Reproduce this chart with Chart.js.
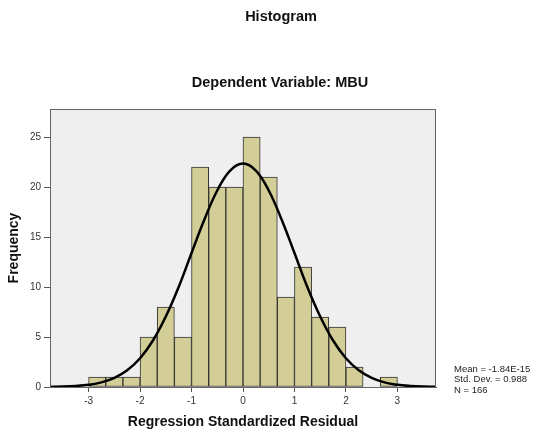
<!DOCTYPE html>
<html>
<head>
<meta charset="utf-8">
<script src="https://cdn.jsdelivr.net/npm/chart.js@4/dist/chart.umd.min.js"></script>
<style>
  html, body { margin: 0; padding: 0; background: #fff; }
</style>
</head>
<body>
<canvas id="histChart" width="537" height="433"></canvas>
<script>
// histogram bins (centre of each 1/3-wide bin) and counts
const binCenters = [-2.8333, -2.5, -2.1667, -1.8333, -1.5, -1.1667, -0.8333, -0.5, -0.1667,
                    0.1667, 0.5, 0.8333, 1.1667, 1.5, 1.8333, 2.1667, 2.5, 2.8333];
const frequencies = [1, 1, 1, 5, 8, 5, 22, 20, 20, 25, 21, 9, 12, 7, 6, 2, 0, 1];

// normal curve
const curveX = [-3.75, -3.5, -3.25, -3, -2.75, -2.5, -2.25, -2, -1.75, -1.5, -1.25, -1, -0.75, -0.5, -0.25,
                0, 0.25, 0.5, 0.75, 1, 1.25, 1.5, 1.75, 2, 2.25, 2.5, 2.75, 3, 3.25, 3.5, 3.75];
const curveY = [0.02, 0.04, 0.1, 0.22, 0.46, 0.91, 1.67, 2.88, 4.65, 7.05, 10.0, 13.4, 16.75, 19.65, 21.64,
                22.34, 21.64, 19.65, 16.75, 13.4, 10.0, 7.05, 4.65, 2.88, 1.67, 0.91, 0.46, 0.22, 0.1, 0.04, 0.02];

const xTicks = [-3, -2, -1, 0, 1, 2, 3];
const yTicks = [0, 5, 10, 15, 20, 25];

const chartTitle = 'Histogram';
const chartSubtitle = 'Dependent Variable: MBU';
const statsLines = ['Mean = -1.84E-15', 'Std. Dev. = 0.988', 'N = 166'];

const FONT = '"Liberation Sans", Arial, sans-serif';

const frame = {
  id: 'frame',
  beforeDraw(chart) {
    const { ctx, chartArea: a } = chart;
    ctx.save();
    ctx.fillStyle = '#efefef';
    ctx.fillRect(a.left, a.top, a.right - a.left, a.bottom - a.top);
    ctx.restore();
  },
  afterDraw(chart) {
    const { ctx, chartArea: a } = chart;
    ctx.save();
    ctx.strokeStyle = '#666';
    ctx.lineWidth = 1;
    ctx.strokeRect(a.left + 0.5, a.top + 0.5, a.right - a.left - 1, a.bottom - a.top);

    ctx.fillStyle = '#111';
    ctx.textAlign = 'center';
    ctx.textBaseline = 'middle';
    ctx.font = 'bold 14.5px ' + FONT;
    ctx.fillText(chartTitle, 281, 17);
    ctx.fillText(chartSubtitle, 280, 83);

    ctx.textAlign = 'left';
    ctx.font = '9.5px ' + FONT;
    ctx.fillStyle = '#222';
    statsLines.forEach((t, i) => ctx.fillText(t, 454, 369 + i * 10.5));
    ctx.restore();
  }
};

const ctx = document.getElementById('histChart').getContext('2d');

new Chart(ctx, {
  type: 'bar',
  data: {
    datasets: [{
      type: 'line',
      data: curveX.map((x, i) => ({ x: x, y: curveY[i] })),
      borderColor: '#000',
      borderWidth: 2.5,
      pointRadius: 0,
      tension: 0.4,
      order: 0
    }, {
      type: 'bar',
      data: binCenters.map((x, i) => ({ x: x, y: frequencies[i] })),
      backgroundColor: '#d3ce97',
      borderColor: '#333',
      borderWidth: 1,
      borderSkipped: false,
      barPercentage: 1,
      categoryPercentage: 1,
      order: 1
    }]
  },
  options: {
    responsive: false,
    animation: false,
    layout: { padding: { top: 109, right: 101, left: 0, bottom: 0 } },
    plugins: {
      legend: { display: false },
      tooltip: { enabled: false }
    },
    scales: {
      x: {
        type: 'linear',
        min: -3.75,
        max: 3.75,
        offset: false,
        afterBuildTicks: s => { s.ticks = xTicks.map(v => ({ value: v })); },
        afterFit: s => { s.height = 46; },
        ticks: {
          color: '#333',
          padding: 3,
          font: { family: FONT, size: 10 }
        },
        grid: { offset: false, drawOnChartArea: false, drawTicks: true, tickLength: 5, color: '#555' },
        border: { display: true, color: '#555' },
        title: {
          display: true,
          text: 'Regression Standardized Residual',
          color: '#111',
          font: { family: FONT, size: 14, weight: 'bold' },
          padding: { top: 0, bottom: 2 }
        }
      },
      y: {
        min: 0,
        max: 27.8,
        afterBuildTicks: s => { s.ticks = yTicks.map(v => ({ value: v })); },
        afterFit: s => { s.width = 50; },
        ticks: {
          color: '#333',
          padding: 3,
          font: { family: FONT, size: 10 }
        },
        grid: { drawOnChartArea: false, drawTicks: true, tickLength: 6, color: '#555' },
        border: { display: true, color: '#555' },
        title: {
          display: true,
          text: 'Frequency',
          color: '#111',
          font: { family: FONT, size: 14, weight: 'bold' },
          padding: { top: 6, bottom: 0 }
        }
      }
    }
  },
  plugins: [frame]
});
</script>
</body>
</html>
